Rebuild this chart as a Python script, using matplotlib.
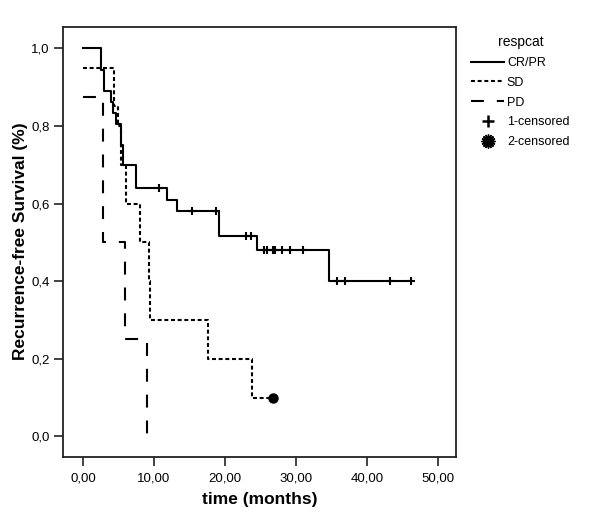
import numpy as np
import matplotlib
matplotlib.use('Agg')
import matplotlib.pyplot as plt
from matplotlib.lines import Line2D

plt.rcParams['font.family'] = ['Liberation Sans', 'DejaVu Sans']

# Kaplan-Meier steps (time in months, survival after the step)
crpr_times = [0, 2.5, 3.0, 3.9, 4.3, 4.6, 5.4, 5.7, 7.5, 11.9, 13.2, 19.2, 24.5, 34.6, 46.2]
crpr_surv = [1.0, 0.944, 0.889, 0.861, 0.833, 0.806, 0.75, 0.70, 0.64, 0.61, 0.58, 0.517, 0.48, 0.40, 0.40]
crpr_censored = [10.7, 15.3, 18.7, 22.9, 23.6, 25.5, 25.9, 26.8, 27.1, 28.1, 29.1, 31.0,
                 35.8, 36.9, 43.3, 46.2]

sd_times = [0, 4.4, 5.0, 5.4, 6.0, 8.1, 9.3, 9.5, 17.6, 23.8, 26.8]
sd_surv = [0.95, 0.85, 0.80, 0.70, 0.60, 0.50, 0.40, 0.30, 0.20, 0.10, 0.10]
sd_censored = [26.8]

pd_times = [0, 2.85, 5.9, 9.0]
pd_surv = [0.875, 0.50, 0.25, 0.0]

x_ticks = [0, 10, 20, 30, 40, 50]
y_ticks = [0.0, 0.2, 0.4, 0.6, 0.8, 1.0]


def surv_at(times, surv, t):
    idx = np.searchsorted(times, t, side='right') - 1
    return np.array(surv)[idx]


fig = plt.figure(figsize=(6, 5.3), dpi=100)
ax = fig.add_axes([0.1055, 0.1385, 0.654, 0.8115])

lw = 1.5
ax.step(crpr_times, crpr_surv, where='post', color='black', lw=lw, ls='-')
ax.step(sd_times, sd_surv, where='post', color='black', lw=lw, ls=(0, (1.9, 1.3)))
ax.step(pd_times, pd_surv, where='post', color='black', lw=lw, ls=(0, (6.2, 6.2)))

ax.plot(crpr_censored, surv_at(crpr_times, crpr_surv, crpr_censored), ls='none',
        marker='+', color='black', ms=6, mew=1.5)
ax.plot(sd_censored, surv_at(sd_times, sd_surv, sd_censored), ls='none',
        marker='o', color='black', ms=6.5)

ax.set_xlim(-2.77, 52.5)
ax.set_ylim(-0.052, 1.056)
ax.set_xticks(x_ticks)
ax.set_xticklabels([f'{v:.2f}'.replace('.', ',') for v in x_ticks])
ax.set_yticks(y_ticks)
ax.set_yticklabels([f'{v:.1f}'.replace('.', ',') for v in y_ticks])
ax.tick_params(direction='out', length=6.5, width=1.2, labelsize=9.5, color='#222222')
ax.tick_params(axis='x', pad=5)
for s in ax.spines.values():
    s.set_linewidth(1.3)
    s.set_color('#222222')

ax.set_xlabel('time (months)', fontsize=12.5, fontweight='bold', labelpad=5)
ax.set_ylabel('Recurrence-free Survival (%)', fontsize=12.5, fontweight='bold', labelpad=2)

handles = [
    Line2D([], [], color='black', lw=lw, ls='-'),
    Line2D([], [], color='black', lw=lw, ls=(0, (1.9, 1.3))),
    Line2D([], [], color='black', lw=lw, ls=(0, (6.2, 6.2))),
    Line2D([], [], color='black', ls='none', marker='+', ms=9, mew=1.8),
    Line2D([], [], color='black', ls='none', marker=(16, 1, 0), ms=10),
]
labels = ['CR/PR', 'SD', 'PD', '1-censored', '2-censored']
leg = fig.legend(handles, labels, title='respcat', loc='upper left',
                 bbox_to_anchor=(460 / 600, 1 - 24 / 530), frameon=False,
                 fontsize=9, title_fontsize=10, handlelength=2.6,
                 handletextpad=0.25, labelspacing=0.62)

fig.savefig('out.png', dpi=100)
